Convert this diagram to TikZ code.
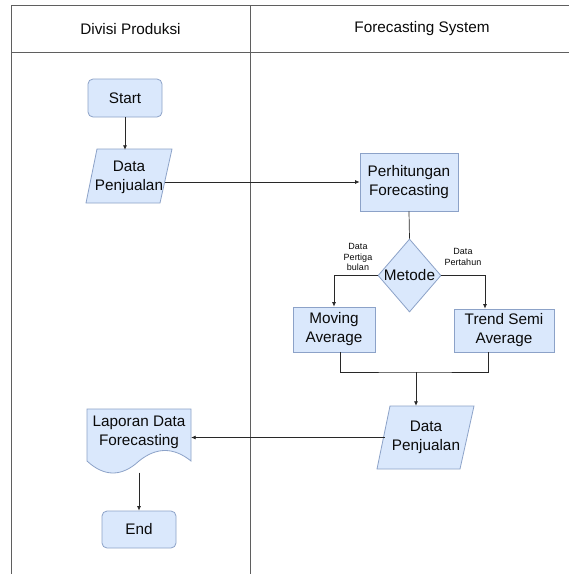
\documentclass[tikz,border=0pt]{standalone}
\usepackage{fontspec}
\setmainfont{Liberation Sans}
\usetikzlibrary{arrows.meta,shapes.geometric,calc}
\definecolor{boxfill}{HTML}{DAE8FC}
\definecolor{boxline}{RGB}{140,162,200}
\definecolor{lineclr}{RGB}{40,40,40}
\definecolor{frameclr}{RGB}{95,95,95}
\definecolor{txt}{RGB}{10,10,10}
\begin{document}
\begin{tikzpicture}[x=1pt,y=-1pt, font=\fontsize{15.3}{19}\selectfont, text=txt,
  proc/.style={draw=boxline, fill=boxfill, line width=0.8pt, align=center, inner sep=0pt},
  rproc/.style={proc, rounded corners=5pt},
  io/.style={draw=boxline, fill=boxfill, line width=0.8pt},
  lbl/.style={align=center, inner sep=0pt},
  conn/.style={draw=lineclr, line width=0.7pt},
  arr/.style={conn, -{Latex[length=4.5pt,width=4pt]}},
  frame/.style={draw=frameclr, line width=0.9pt},
  small/.style={font=\fontsize{9}{10.5}\selectfont, align=center, inner sep=0pt}]

\useasboundingbox (0,0) rectangle (569,574);
\fill[white] (0,0) rectangle (569,574);

% swimlane frame
\draw[frame] (11,574) -- (11,5.7) -- (569,5.7);
\draw[frame] (11,52) -- (569,52);
\draw[frame] (250.5,5.7) -- (250.5,574);
\node[lbl] (h1) at (130.5,29) {Divisi Produksi};
\node[lbl] (h2) at (422,29) {Forecasting System};

% left lane
\node[rproc, minimum width=74pt, minimum height=38pt] (start) at (125,98) {Start};

\draw[io] (86,203) -- (160,203) -- (172,149) -- (97,149) -- cycle;
\node[lbl, minimum width=72pt, minimum height=54pt] (dp1) at (129,177) {Data\\Penjualan};

\draw[io] (87,409) -- (191,409) -- (191,461)
  .. controls (173.7,447) and (156.3,447) .. (139,461)
  .. controls (121.7,477) and (104.3,477) .. (87,461) -- cycle;
\node[lbl, minimum width=104pt, minimum height=48pt] (lap) at (139,432.5) {Laporan Data\\Forecasting};

\node[rproc, minimum width=74pt, minimum height=37pt] (end) at (139,529.5) {End};

% right lane
\node[proc, minimum width=98pt, minimum height=58pt] (perh) at (409,182) {Perhitungan\\Forecasting};
\node[diamond, draw=boxline, fill=boxfill, line width=0.8pt, inner sep=0pt, aspect=0.86,
      minimum width=63pt, minimum height=73pt] (met) at (409.5,275.5) {Metode};
\node[proc, minimum width=82pt, minimum height=45pt] (ma) at (334,329.5) {Moving\\Average};
\node[proc, minimum width=100pt, minimum height=43pt] (tsa) at (504,330.5) {Trend Semi\\Average};
\node[small] (l1) at (358,257) {Data\\Pertiga\\bulan};
\node[small] (l2) at (463,257) {Data\\Pertahun};

\draw[io] (377,469) -- (460,469) -- (474,406) -- (390,406) -- cycle;
\node[lbl, minimum width=82pt, minimum height=63pt] (dp2) at (426,437.5) {Data\\Penjualan};

\coordinate (mj) at (416,372);

% connectors
\draw[arr] (start.south) -- (start.south |- dp1.north);
\draw[arr] (perh.west -| dp1.east) -- (perh.west);
\draw[conn] (perh.south) -- (met.north);
\draw[arr] (met.west) -| (ma.north);
\draw[arr] (met.east) -| ([xshift=-19pt]tsa.north);
\draw[conn] ([xshift=6pt]ma.south) |- (mj) -| ([xshift=-16pt]tsa.south);
\draw[arr] (mj) -- (mj |- dp2.north);
\draw[arr] (dp2.west) -- (dp2.west -| lap.east);
\draw[arr] ([yshift=-16pt]lap.south) -- (end.north);
\end{tikzpicture}
\end{document}
